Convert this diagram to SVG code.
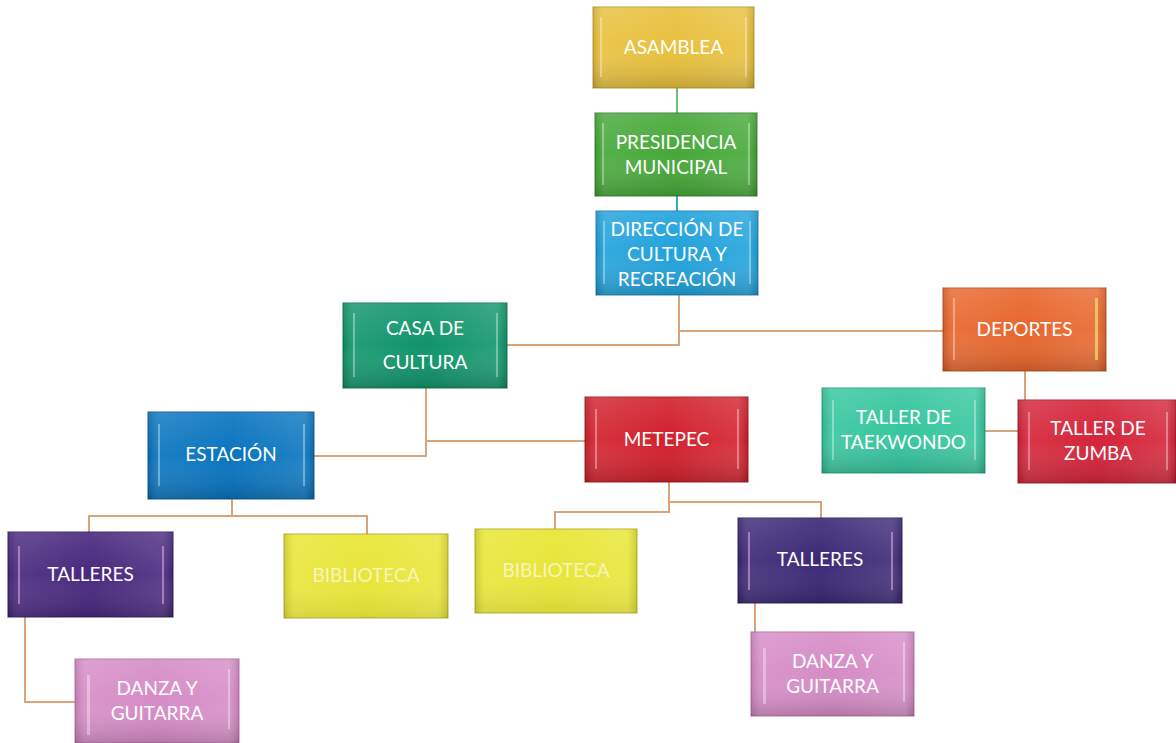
<svg xmlns="http://www.w3.org/2000/svg" width="1176" height="743" viewBox="0 0 1176 743">
<defs>
<linearGradient id="shade" x1="0" y1="0" x2="0" y2="1">
<stop offset="0" stop-color="#fff" stop-opacity="0.1"/>
<stop offset="0.5" stop-color="#fff" stop-opacity="0"/>
<stop offset="1" stop-color="#000" stop-opacity="0.16"/>
</linearGradient>
<linearGradient id="side" x1="0" y1="0" x2="1" y2="0">
<stop offset="0" stop-color="#000" stop-opacity="0.12"/>
<stop offset="0.06" stop-color="#fff" stop-opacity="0.08"/>
<stop offset="0.5" stop-color="#fff" stop-opacity="0"/>
<stop offset="0.94" stop-color="#fff" stop-opacity="0.1"/>
<stop offset="1" stop-color="#000" stop-opacity="0.12"/>
</linearGradient>
</defs>
<style>
.box{stroke-width:1.5;stroke-opacity:0.6}
.ov{fill:url(#shade)}
.ov2{fill:url(#side)}
.shine{fill:#fff;opacity:0.35}
.t{font-family:Lato,"Open Sans","Liberation Sans",sans-serif;font-size:19px;fill:#fff;text-anchor:middle}
.tb{fill:#fbf8d0;opacity:0.85}
.c{fill:none;stroke:#d9a47a;stroke-width:2}
</style>
<rect width="1176" height="743" fill="#fff"/>
<g id="connectors">
<path class="c" d="M677,88 V113" style="stroke:#6cc07a"/>
<path class="c" d="M677,196 V211" style="stroke:#3aa8c8"/>
<path class="c" d="M679,295 V345 H507"/>
<path class="c" d="M679,331 H943"/>
<path class="c" d="M1025,371 V400"/>
<path class="c" d="M985,431 H1018"/>
<path class="c" d="M426,388 V441 H585"/>
<path class="c" d="M426,441 V456 H314"/>
<path class="c" d="M232,499 V516"/>
<path class="c" d="M89,532 V516 H367 V534"/>
<path class="c" d="M25,617 V702 H75"/>
<path class="c" d="M669,482 V512 H555 V529"/>
<path class="c" d="M669,502 H821 V518"/>
<path class="c" d="M755,603 V632"/>
</g>
<g id="asamblea" transform="translate(593,7)">
<rect class="box" width="161" height="81" fill="#e8c03c" stroke="#b8922a"/>
<rect class="ov2" width="161" height="81"/><rect class="ov" width="161" height="81"/>
<rect class="shine" x="7" y="10" width="2" height="60"/><rect class="shine" x="152" y="10" width="2" height="60"/>
<text class="t" x="80.5" y="47">ASAMBLEA</text>
</g>
<g id="presidencia" transform="translate(595,113)">
<rect class="box" width="162" height="83" fill="#46a838" stroke="#2e7a28"/>
<rect class="ov2" width="162" height="83"/><rect class="ov" width="162" height="83"/>
<rect class="shine" x="7" y="10" width="2" height="62"/><rect class="shine" x="153" y="10" width="2" height="62"/>
<text class="t" x="81" y="36">PRESIDENCIA</text>
<text class="t" x="81" y="61">MUNICIPAL</text>
</g>
<g id="direccion" transform="translate(596,211)">
<rect class="box" width="162" height="84" fill="#20a2dc" stroke="#1a78a8"/>
<rect class="ov2" width="162" height="84"/><rect class="ov" width="162" height="84"/>
<rect class="shine" x="7" y="10" width="2" height="63"/><rect class="shine" x="153" y="10" width="2" height="63"/>
<text class="t" x="81" y="25">DIRECCIÓN DE</text>
<text class="t" x="81" y="50">CULTURA Y</text>
<text class="t" x="81" y="75">RECREACIÓN</text>
</g>
<g id="casa" transform="translate(343,303)">
<rect class="box" width="164" height="85" fill="#10956a" stroke="#0a6a48"/>
<rect class="ov2" width="164" height="85"/><rect class="ov" width="164" height="85"/>
<rect class="shine" x="10" y="10" width="2" height="64"/><rect class="shine" x="153" y="10" width="2" height="64"/>
<text class="t" x="82" y="32">CASA DE</text>
<text class="t" x="82" y="66">CULTURA</text>
</g>
<g id="deportes" transform="translate(943,288)">
<rect class="box" width="163" height="83" fill="#e8662c" stroke="#b04a1c"/>
<rect class="ov2" width="163" height="83"/><rect class="ov" width="163" height="83"/>
<rect class="shine" x="10" y="10" width="2" height="62"/><rect class="shine" x="152" y="10" width="3" height="62" style="fill:#f0e070;opacity:.7"/>
<text class="t" x="81.5" y="48">DEPORTES</text>
</g>
<g id="taekwondo" transform="translate(822,388)">
<rect class="box" width="163" height="85" fill="#36c69e" stroke="#1e9a78"/>
<rect class="ov2" width="163" height="85"/><rect class="ov" width="163" height="85"/>
<rect class="shine" x="10" y="12" width="2" height="60"/><rect class="shine" x="152" y="12" width="2" height="60"/>
<text class="t" x="81.5" y="36">TALLER DE</text>
<text class="t" x="81.5" y="61">TAEKWONDO</text>
</g>
<g id="zumba" transform="translate(1018,400)">
<rect class="box" width="158" height="83" fill="#d42438" stroke="#9a1424"/>
<rect class="ov2" width="158" height="83"/><rect class="ov" width="158" height="83"/>
<rect class="shine" x="10" y="12" width="2" height="58" style="fill:#f0a0c0;opacity:.6"/><rect class="shine" x="148" y="12" width="2" height="58"/>
<text class="t" x="80" y="35">TALLER DE</text>
<text class="t" x="80" y="60">ZUMBA</text>
</g>
<g id="metepec" transform="translate(585,397)">
<rect class="box" width="163" height="85" fill="#d2202c" stroke="#9a1018"/>
<rect class="ov2" width="163" height="85"/><rect class="ov" width="163" height="85"/>
<rect class="shine" x="10" y="12" width="2" height="60"/><rect class="shine" x="152" y="12" width="2" height="60"/>
<text class="t" x="81.5" y="49">METEPEC</text>
</g>
<g id="estacion" transform="translate(148,412)">
<rect class="box" width="166" height="87" fill="#0874bf" stroke="#064e88"/>
<rect class="ov2" width="166" height="87"/><rect class="ov" width="166" height="87"/>
<rect class="shine" x="10" y="12" width="2" height="62"/><rect class="shine" x="155" y="12" width="2" height="62"/>
<text class="t" x="83" y="49">ESTACIÓN</text>
</g>
<g id="talleres1" transform="translate(8,532)">
<rect class="box" width="165" height="85" fill="#48287e" stroke="#2a1456"/>
<rect class="ov2" width="165" height="85"/><rect class="ov" width="165" height="85"/>
<rect class="shine" x="10" y="14" width="2" height="58" style="fill:#e0a0e0;opacity:.6"/><rect class="shine" x="154" y="14" width="2" height="58" style="fill:#e0a0e0;opacity:.6"/>
<text class="t" x="82.5" y="49">TALLERES</text>
</g>
<g id="biblioteca1" transform="translate(284,534)">
<rect class="box" width="164" height="84" fill="#e8e63a" stroke="#b0ae20"/>
<rect class="ov2" width="164" height="84"/><rect class="ov" width="164" height="84" style="opacity:.5"/>
<text class="t tb" x="82" y="48">BIBLIOTECA</text>
</g>
<g id="biblioteca2" transform="translate(475,529)">
<rect class="box" width="162" height="84" fill="#e8e63a" stroke="#b0ae20"/>
<rect class="ov2" width="162" height="84"/><rect class="ov" width="162" height="84" style="opacity:.5"/>
<text class="t tb" x="81" y="48">BIBLIOTECA</text>
</g>
<g id="talleres2" transform="translate(738,518)">
<rect class="box" width="164" height="85" fill="#3c2876" stroke="#221454"/>
<rect class="ov2" width="164" height="85"/><rect class="ov" width="164" height="85"/>
<rect class="shine" x="10" y="14" width="2" height="58" style="fill:#e0a0e0;opacity:.6"/><rect class="shine" x="153" y="14" width="2" height="58" style="fill:#e0a0e0;opacity:.6"/>
<text class="t" x="82" y="48">TALLERES</text>
</g>
<g id="danza1" transform="translate(75,659)">
<rect class="box" width="164" height="84" fill="#d68cc6" stroke="#b068a0"/>
<rect class="ov2" width="164" height="84"/><rect class="ov" width="164" height="84"/>
<rect class="shine" x="12" y="16" width="3" height="60"/><rect class="shine" x="153" y="10" width="2" height="60"/>
<text class="t" x="82" y="36">DANZA Y</text>
<text class="t" x="82" y="61">GUITARRA</text>
</g>
<g id="danza2" transform="translate(751,632)">
<rect class="box" width="163" height="84" fill="#d68cc6" stroke="#b068a0"/>
<rect class="ov2" width="163" height="84"/><rect class="ov" width="163" height="84"/>
<rect class="shine" x="12" y="16" width="3" height="56"/><rect class="shine" x="152" y="10" width="2" height="60"/>
<text class="t" x="81.5" y="36">DANZA Y</text>
<text class="t" x="81.5" y="61">GUITARRA</text>
</g>
</svg>
